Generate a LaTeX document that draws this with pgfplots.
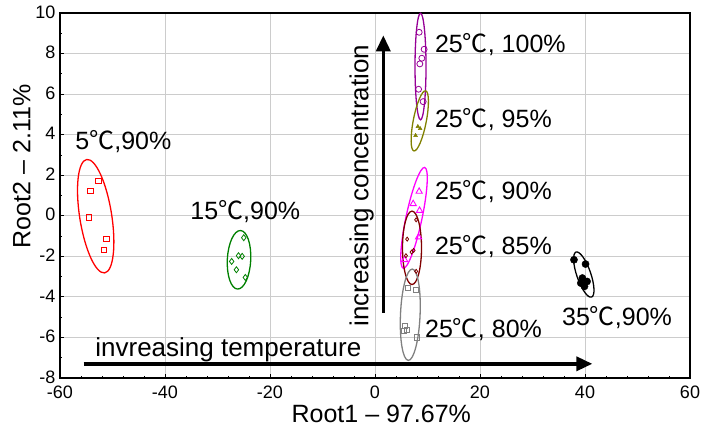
\documentclass[border=0pt]{standalone}
\usepackage{pgfplots}
\pgfplotsset{compat=1.18}
\usepackage{fontspec}
\setmainfont{Liberation Sans}
\newfontfamily\cjk{Noto Sans CJK SC}
\newcommand{\dc}{{\cjk ℃}}
\usetikzlibrary{arrows.meta}
\definecolor{cpurple}{RGB}{150,0,150}
\definecolor{colive}{RGB}{128,128,0}
\definecolor{cmag}{RGB}{255,0,255}
\definecolor{cdred}{RGB}{128,0,0}
\definecolor{cgreen}{RGB}{0,128,0}
\definecolor{cgray}{RGB}{128,128,128}
\begin{document}
\begin{tikzpicture}
\begin{axis}[
  scale only axis, width=630pt, height=365pt,
  xmin=-60, xmax=60, ymin=-8, ymax=10,
  xtick distance=20, ytick distance=2,
  minor x tick num=4, minor y tick num=1,
  tick pos=left, tick align=inside,
  major tick length=4pt, minor tick length=2.5pt,
  ymajorgrids, xmajorgrids,
  grid style={gray!40, line width=0.8pt},
  axis line style={line width=1.5pt},
  tick style={black, line width=0.8pt},
  /pgf/number format/assume math mode=true,
  tick label style={font=\fontsize{18}{20}\selectfont},
  xticklabel style={yshift=-4pt},
  yticklabel style={xshift=-1pt, yshift=1pt},
  xlabel={Root1 -- 97.67\%},
  ylabel={Root2 -- 2.11\%},
  label style={font=\fontsize{25}{28}\selectfont},
  xlabel style={at={(ticklabel cs:0.51)}, anchor=north, yshift=0pt},
  ylabel style={at={(ticklabel cs:0.58)}, anchor=south, yshift=-2pt},
  clip=false,
]
% 5C 90%
\addplot[only marks, mark=square, mark size=2.8pt, red, line width=0.9pt] coordinates {
(-52.7,1.71) (-54.2,1.23) (-54.5,-0.08) (-51.1,-1.15) (-51.6,-1.69)};
% 15C 90%
\addplot[only marks, mark=diamond, mark size=3pt, cgreen, line width=0.8pt] coordinates {
(-25.0,-1.08) (-26.0,-1.97) (-25.3,-2.0) (-27.3,-2.25) (-26.4,-2.66) (-24.7,-3.04)};
% 25C 100%
\addplot[only marks, mark=o, mark size=3pt, cpurple, line width=0.8pt] coordinates {
(8.41,9.05) (9.36,8.21) (8.92,7.77) (8.54,7.49) (8.30,6.24) (9.17,5.63)};
% 25C 95%
\addplot[only marks, mark=triangle*, mark size=2.2pt, colive] coordinates {
(8.16,4.40) (8.60,4.30) (7.73,3.96)};
% 25C 90%
\addplot[only marks, mark=triangle, mark size=3.6pt, cmag, line width=0.9pt] coordinates {
(8.41,1.20) (7.27,0.59) (8.49,0.26) (8.30,-1.05) (5.64,-2.17)};
% 25C 85%
\addplot[only marks, mark=diamond, mark size=2pt, cdred, line width=0.8pt] coordinates {
(7.84,-0.20) (6.13,-1.15) (7.35,-1.71) (6.97,-1.79) (5.89,-1.97) (7.84,-2.74)};
% 25C 80%
\addplot[only marks, mark=square, mark size=2.6pt, cgray, line width=0.8pt] coordinates {
(6.21,-3.56) (7.73,-3.65) (5.75,-5.45) (6.08,-5.62) (5.56,-5.66) (8.03,-6.0)};
% 35C 90%
\addplot[only marks, mark=*, mark size=3.6pt, black] coordinates {
(37.9,-2.17) (40.1,-2.38) (39.5,-3.07) (40.4,-3.24) (39.9,-3.48) (39.2,-3.32)};

% ellipses
\draw[red, line width=1.3pt] (axis cs:-53.2,-0.02) ellipse [x radius=16pt, y radius=57.4pt, rotate=9];
\draw[cgreen, line width=1.3pt] (axis cs:-25.9,-2.17) ellipse [x radius=11.7pt, y radius=29.3pt, rotate=-3];
\draw[cpurple, line width=1.3pt] (axis cs:8.67,7.36) ellipse [x radius=5.5pt, y radius=53.3pt];
\draw[colive, line width=1.3pt] (axis cs:8.53,4.68) ellipse [x radius=6.5pt, y radius=30.6pt, rotate=-11];
\draw[cmag, line width=1.3pt] (axis cs:7.43,-0.10) ellipse [x radius=8pt, y radius=51.5pt, rotate=-12];
\draw[cdred, line width=1.3pt] (axis cs:7.05,-1.58) ellipse [x radius=9.5pt, y radius=36.7pt];
\draw[cgray, line width=1.3pt] (axis cs:6.72,-4.88) ellipse [x radius=9.8pt, y radius=45.7pt, rotate=-2.5];
\draw[black, line width=1.3pt] (axis cs:39.77,-2.90) ellipse [x radius=7pt, y radius=23.8pt, rotate=19];

% arrows
\draw[line width=3.5pt, -{Triangle[length=16pt,width=14pt]}] (axis cs:-55.5,-7.3) -- (axis cs:41.4,-7.3);
\draw[line width=3.5pt, -{Triangle[length=16pt,width=14pt]}] (axis cs:1.58,-4.78) -- (axis cs:1.58,8.9);

% labels
\tikzset{lab/.style={anchor=west, inner sep=0pt, font=\fontsize{25}{28}\selectfont}}
\node[lab] at (axis cs:-57.1,3.65) {5\dc,90\%};
\node[lab] at (axis cs:-35.2,0.2) {15\dc,90\%};
\node[lab] at (axis cs:11.4,8.43) {25\dc, 100\%};
\node[lab] at (axis cs:11.4,4.73) {25\dc, 95\%};
\node[lab] at (axis cs:11.4,1.18) {25\dc, 90\%};
\node[lab] at (axis cs:11.4,-1.53) {25\dc, 85\%};
\node[lab] at (axis cs:9.52,-5.62) {25\dc, 80\%};
\node[lab] at (axis cs:35.6,-5.03) {35\dc,90\%};
\node[lab, font=\fontsize{26}{28}\selectfont] at (axis cs:-53.3,-6.61) {invreasing temperature};
\node[inner sep=0pt, rotate=90, font=\fontsize{26}{28}\selectfont] at (axis cs:-2.53,1.48) {increasing concentration};
\end{axis}
\path ([shift={(-60pt,-50pt)}]current axis.south west) rectangle ([shift={(21pt,13pt)}]current axis.north east);
\end{tikzpicture}
\end{document}
